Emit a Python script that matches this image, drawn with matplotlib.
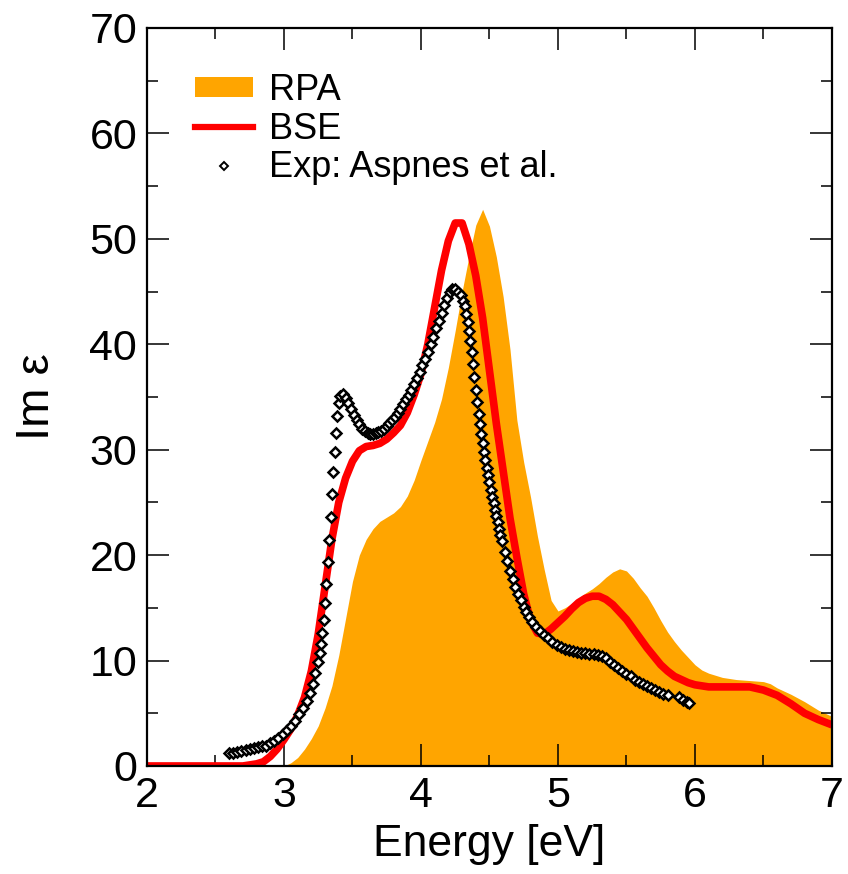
import numpy as np
import matplotlib
matplotlib.use('Agg')
import matplotlib.pyplot as plt
from matplotlib.patches import Patch
from matplotlib.lines import Line2D

plt.rcParams['font.family'] = ['Liberation Sans', 'DejaVu Sans']

# RPA (filled)
rpa_x = [2.00, 3.00, 3.05, 3.10, 3.15, 3.20, 3.25, 3.30, 3.35, 3.40, 3.45, 3.50, 3.55, 3.60, 3.65,
         3.70, 3.75, 3.80, 3.85, 3.90, 3.95, 4.00, 4.05, 4.10, 4.15, 4.20, 4.25, 4.30, 4.35, 4.40,
         4.45, 4.50, 4.55, 4.60, 4.65, 4.70, 4.75, 4.80, 4.85, 4.90, 4.95, 5.00, 5.05, 5.10, 5.15,
         5.20, 5.25, 5.30, 5.35, 5.40, 5.45, 5.50, 5.55, 5.60, 5.65, 5.70, 5.75, 5.80, 5.85, 5.90,
         5.95, 6.00, 6.05, 6.10, 6.20, 6.30, 6.40, 6.50, 6.55, 6.60, 6.70, 6.80, 6.90, 7.00]
rpa_y = [0.0, 0.0, 0.3, 0.8, 1.6, 2.6, 3.8, 5.5, 7.6, 10.5, 14.0, 17.5, 20.0, 21.5, 22.5,
         23.2, 23.6, 24.0, 24.6, 25.6, 27.1, 29.0, 30.8, 32.6, 34.8, 37.8, 41.3, 45.0, 48.3, 51.3,
         52.8, 51.2, 48.3, 44.5, 39.5, 32.8, 28.8, 25.5, 21.8, 18.6, 15.7, 14.7, 15.0, 15.4, 15.9,
         16.4, 16.8, 17.3, 17.9, 18.4, 18.7, 18.5, 17.8, 16.9, 16.1, 15.0, 13.8, 12.7, 11.8, 11.0,
         10.3, 9.6, 9.1, 8.8, 8.4, 8.2, 8.1, 8.0, 7.8, 7.4, 6.8, 6.1, 5.3, 4.7]

# BSE (red line)
bse_x = [2.00, 2.70, 2.75, 2.80, 2.85, 2.90, 2.95, 3.00, 3.05, 3.10, 3.15, 3.20, 3.25, 3.30, 3.35,
         3.40, 3.45, 3.50, 3.55, 3.60, 3.65, 3.70, 3.75, 3.80, 3.85, 3.90, 3.95, 4.00, 4.05, 4.10,
         4.15, 4.20, 4.25, 4.30, 4.35, 4.40, 4.45, 4.50, 4.55, 4.60, 4.65, 4.70, 4.75, 4.80, 4.85,
         4.90, 4.95, 5.00, 5.05, 5.10, 5.15, 5.20, 5.25, 5.30, 5.35, 5.40, 5.45, 5.50, 5.55, 5.60,
         5.65, 5.70, 5.75, 5.80, 5.85, 5.90, 5.95, 6.00, 6.10, 6.20, 6.30, 6.40, 6.50, 6.60, 6.70,
         6.80, 6.90, 7.00]
bse_y = [0.0, 0.0, 0.1, 0.2, 0.4, 0.9, 1.6, 2.5, 3.5, 4.8, 6.5, 9.0, 12.5, 17.0, 21.5,
         25.0, 27.3, 28.9, 29.9, 30.3, 30.4, 30.6, 31.0, 31.6, 32.3, 33.5, 35.2, 37.2, 40.0, 43.5,
         47.0, 49.8, 51.5, 51.5, 49.5, 46.5, 42.5, 37.5, 32.5, 28.0, 23.5, 19.8, 16.3, 13.8, 12.6,
         12.5, 13.0, 13.6, 14.2, 14.9, 15.5, 15.9, 16.1, 16.1, 15.8, 15.3, 14.6, 13.9, 13.0, 12.1,
         11.2, 10.4, 9.6, 9.0, 8.5, 8.2, 7.9, 7.7, 7.5, 7.5, 7.5, 7.5, 7.2, 6.7, 5.9,
         5.0, 4.4, 3.9]

# Exp: Aspnes et al. (diamonds)
exp_x = [2.60, 2.63, 2.66, 2.69, 2.72, 2.75, 2.78, 2.81, 2.84, 2.87, 2.90, 2.93, 2.96, 2.99, 3.02,
         3.05, 3.08, 3.11, 3.14, 3.17, 3.19, 3.21, 3.23, 3.25, 3.26, 3.27, 3.28, 3.29, 3.30, 3.31,
         3.32, 3.33, 3.34, 3.35, 3.36, 3.37, 3.38, 3.39, 3.40, 3.41, 3.43, 3.45, 3.47, 3.49, 3.51,
         3.53, 3.55, 3.57, 3.59, 3.61, 3.63, 3.65, 3.67, 3.69, 3.71, 3.73, 3.75, 3.77, 3.79, 3.81,
         3.83, 3.85, 3.87, 3.89, 3.91, 3.93, 3.95, 3.97, 3.99, 4.01, 4.03, 4.05, 4.07, 4.09, 4.11,
         4.13, 4.15, 4.17, 4.19, 4.21, 4.23, 4.25, 4.27, 4.29, 4.31, 4.32, 4.33, 4.34, 4.35, 4.36,
         4.37, 4.38, 4.39, 4.40, 4.41, 4.42, 4.43, 4.44, 4.45, 4.46, 4.47, 4.48, 4.49, 4.50, 4.51,
         4.52, 4.53, 4.54, 4.55, 4.56, 4.57, 4.58, 4.59, 4.61, 4.63, 4.65, 4.67, 4.69, 4.71, 4.73,
         4.75, 4.77, 4.79, 4.81, 4.84, 4.87, 4.90, 4.93, 4.96, 4.99, 5.02, 5.05, 5.08, 5.11, 5.14,
         5.17, 5.20, 5.23, 5.26, 5.29, 5.32, 5.35, 5.38, 5.41, 5.44, 5.47, 5.50, 5.53, 5.56, 5.59,
         5.62, 5.65, 5.68, 5.71, 5.74, 5.77, 5.80, 5.88, 5.91, 5.94, 5.96]
exp_y = [1.2, 1.2, 1.3, 1.4, 1.5, 1.6, 1.7, 1.8, 1.9, 1.9, 2.2, 2.4, 2.7, 3.0, 3.4,
         3.8, 4.3, 4.9, 5.5, 6.2, 6.9, 7.8, 8.8, 9.9, 10.7, 11.6, 12.6, 13.8, 15.5, 17.3,
         19.3, 21.4, 23.6, 25.8, 27.9, 29.8, 31.6, 33.2, 34.4, 35.1, 35.3, 34.9, 34.4, 33.9, 33.3,
         32.8, 32.4, 32.0, 31.8, 31.6, 31.5, 31.5, 31.6, 31.7, 31.8, 32.0, 32.2, 32.5, 32.8, 33.1,
         33.5, 33.9, 34.3, 34.8, 35.2, 35.7, 36.2, 36.8, 37.4, 38.0, 38.6, 39.3, 40.0, 40.7, 41.5,
         42.2, 43.0, 43.7, 44.4, 45.0, 45.2, 45.2, 45.0, 44.7, 44.1, 43.6, 42.9, 42.1, 41.3, 40.3,
         39.3, 38.1, 36.9, 35.7, 34.5, 33.4, 32.4, 31.5, 30.6, 29.8, 29.0, 28.3, 27.6, 26.9, 26.2,
         25.5, 24.9, 24.3, 23.7, 23.1, 22.5, 21.9, 21.3, 20.3, 19.4, 18.5, 17.7, 17.0, 16.3, 15.7,
         15.1, 14.6, 14.1, 13.7, 13.2, 12.8, 12.4, 12.1, 11.8, 11.5, 11.3, 11.1, 11.0, 10.9, 10.8,
         10.7, 10.7, 10.6, 10.6, 10.5, 10.4, 10.2, 9.9, 9.6, 9.3, 9.0, 8.7, 8.5, 8.2, 8.0,
         7.8, 7.6, 7.4, 7.2, 7.0, 6.8, 6.7, 6.5, 6.3, 6.1, 6.0]

fig = plt.figure(figsize=(8.48, 8.74), dpi=100)
ax = fig.add_axes([0.1733, 0.1236, 0.8078, 0.8444])

ax.fill_between(rpa_x, rpa_y, 0, color='#ffa500', lw=0, zorder=1)
ax.plot(bse_x, bse_y, color='#ff0000', lw=5.5, solid_capstyle='butt', zorder=2)
ax.plot(exp_x, exp_y, ls='none', marker='D', ms=4.8, mfc='white', mec='black', mew=1.8, zorder=3)

ax.set_xlim(2, 7)
ax.set_ylim(0, 70)
ax.set_xticks(np.arange(2, 8, 1))
ax.set_xticks(np.arange(2, 7.01, 0.5), minor=True)
ax.set_yticks(np.arange(0, 71, 10))
ax.set_yticks(np.arange(0, 71, 5), minor=True)
ax.tick_params(which='both', direction='in', top=True, right=True, width=1.1, labelsize=31, pad=7)
ax.tick_params(which='major', length=16)
ax.tick_params(which='minor', length=8)
for s in ax.spines.values():
    s.set_linewidth(1.6)

ax.set_xlabel('Energy [eV]', fontsize=32, labelpad=6)
ax.set_ylabel('Im ε', fontsize=34, labelpad=22)

handles = [Patch(facecolor='#ffa500', edgecolor='none'),
           Line2D([], [], color='#ff0000', lw=4.5),
           Line2D([], [], ls='none', marker='D', ms=4.5, mfc='white', mec='black', mew=1.4)]
ax.legend(handles, ['RPA', 'BSE', 'Exp: Aspnes et al.'], loc='upper left', bbox_to_anchor=(0.07, 0.939),
          frameon=False, fontsize=26, handlelength=1.6, handleheight=0.5, handletextpad=0.45,
          labelspacing=0.1, borderaxespad=0, borderpad=0)

fig.savefig('out.png', dpi=100)
